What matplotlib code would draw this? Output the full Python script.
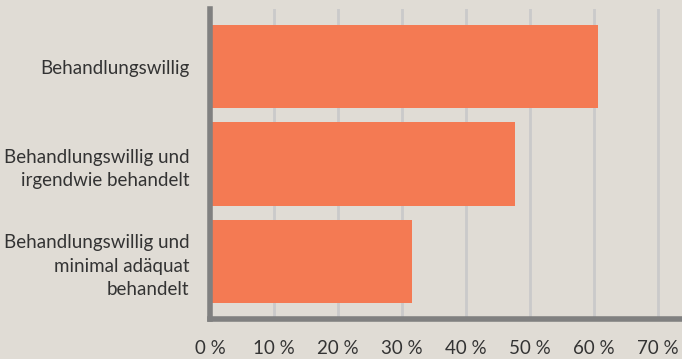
import matplotlib.pyplot as plt

categories = [
    "Behandlungswillig",
    "Behandlungswillig und\nirgendwie behandelt",
    "Behandlungswillig und\nminimal adäquat\nbehandelt",
]
shares = [60.6, 47.6, 31.5]
xticks = [0, 10, 20, 30, 40, 50, 60, 70]
xtick_labels = [f"{t} %" for t in xticks]

bg = "#e0dcd5"
bar_color = "#f47a53"
text_color = "#333333"

plt.rcParams["font.family"] = ["Lato", "DejaVu Sans"]

figure = plt.figure(figsize=(6.82, 3.59), dpi=100, facecolor=bg)
axis = figure.add_axes([210 / 682, 1 - 319 / 359, 1 - 210 / 682, 310 / 359])
axis.set_facecolor(bg)

positions = list(range(len(categories)))
axis.barh(positions, shares, height=0.86, color=bar_color, zorder=3)
axis.set_ylim(2.59, -0.59)
axis.set_xlim(0, 73.7)

axis.set_xticks(xticks)
axis.set_xticklabels(xtick_labels)
axis.set_yticks(positions)
axis.set_yticklabels(categories, linespacing=1.45)
axis.tick_params(axis="y", length=0, labelsize=13.5, colors=text_color, pad=15)
axis.tick_params(axis="x", length=0, labelsize=13.5, colors=text_color, pad=15)

axis.grid(axis="x", color="#cacaca", linewidth=2, zorder=0)
for side in ("top", "right"):
    axis.spines[side].set_visible(False)
for side in ("left", "bottom"):
    axis.spines[side].set_color("#808080")
    axis.spines[side].set_linewidth(4)
    axis.spines[side].set_zorder(4)

figure.savefig("out.png", dpi=100, facecolor=bg)
plt.close(figure)
